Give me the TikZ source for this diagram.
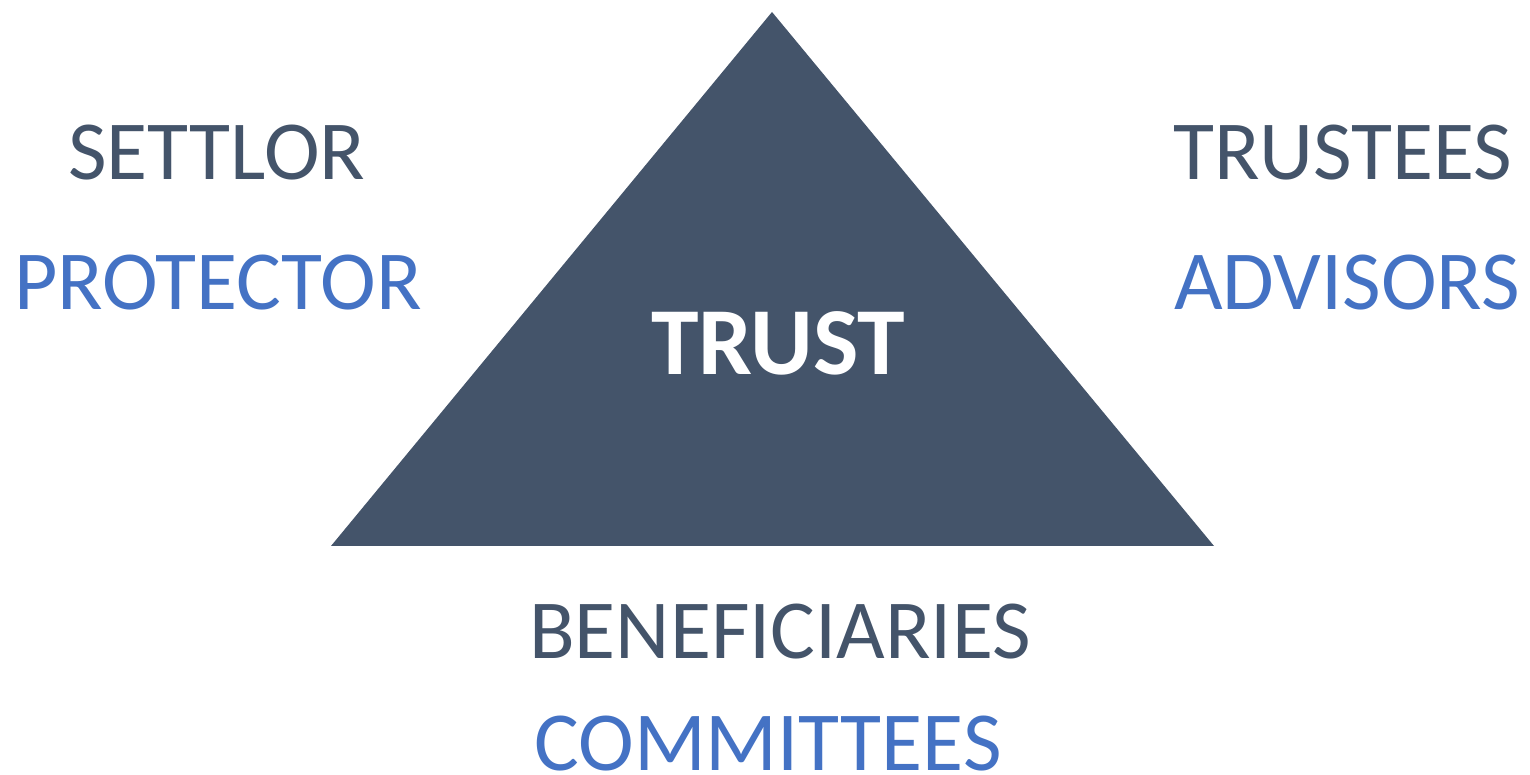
\documentclass[tikz,border=0pt]{standalone}
\usepackage{fontspec}
\setmainfont{Carlito}
\definecolor{slate}{HTML}{44546A}
\definecolor{blueacc}{HTML}{4472C4}
\begin{document}
\begin{tikzpicture}[x=1pt,y=1pt,
  lbl/.style={inner sep=0pt,anchor=base,text depth=0pt,font=\fontsize{84}{92}\selectfont},
  dark/.style={lbl,text=slate},
  blue/.style={lbl,text=blueacc}]
\useasboundingbox (0,0) rectangle (1530,775);
\coordinate (apex) at (772,763);
\coordinate (bl) at (331,229);
\coordinate (br) at (1214,229);
\fill[slate] (apex) -- (br) -- (bl) -- cycle;
\node[inner sep=0pt,anchor=base,text=white,font=\fontsize{96}{104}\selectfont\bfseries] (trust) at (778,400) {TRUST};
\node[dark] (settlor) at (217,595) {SETTLOR};
\node[blue] (protector) at (218,465) {PROTECTOR};
\node[dark] (trustees) at (1343,595) {TRUSTEES};
\node[blue] (advisors) at (1347,465) {ADVISORS};
\node[dark] (benef) at (780,116) {BENEFICIARIES};
\node[blue] (comm) at (768,4) {COMMITTEES};
\end{tikzpicture}
\end{document}
